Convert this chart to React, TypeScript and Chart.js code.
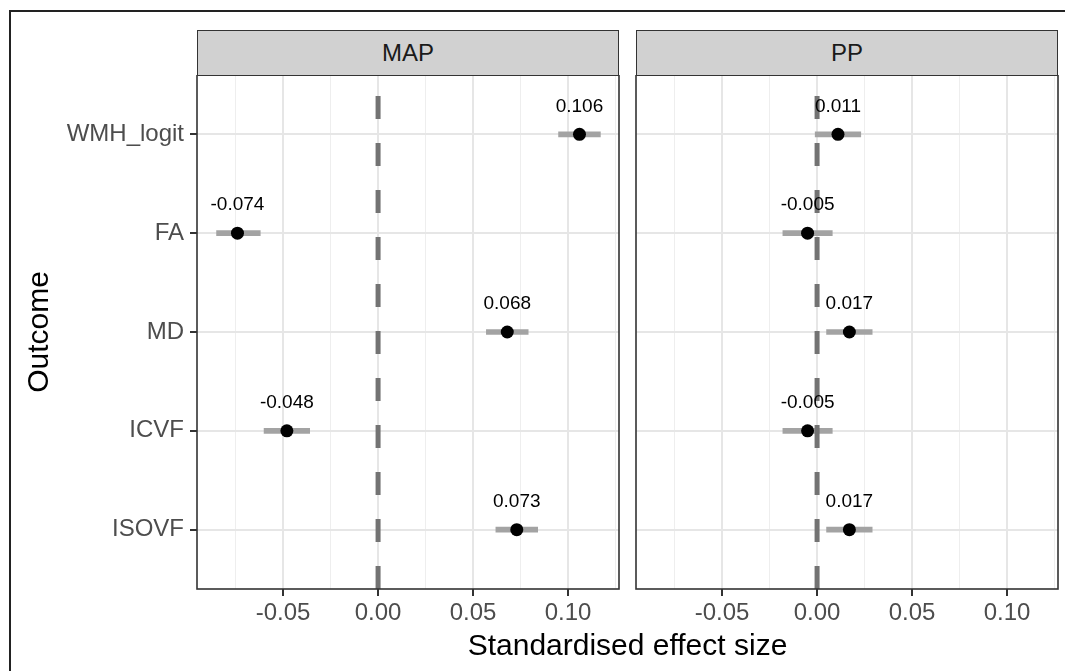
import React, { useEffect, useRef } from 'react';
import { Chart, registerables } from 'chart.js';

Chart.register(...registerables);

// ---------- data ----------
const outcomes = ['WMH_logit', 'FA', 'MD', 'ICVF', 'ISOVF'];
const outcomePos = [5, 4, 3, 2, 1];

const mapEst = [0.106, -0.074, 0.068, -0.048, 0.073];
const mapLow = [0.095, -0.085, 0.057, -0.06, 0.062];
const mapHigh = [0.117, -0.062, 0.079, -0.036, 0.084];

const ppEst = [0.011, -0.005, 0.017, -0.005, 0.017];
const ppLow = [-0.001, -0.018, 0.005, -0.018, 0.005];
const ppHigh = [0.023, 0.008, 0.029, 0.008, 0.029];

const xTickValues = [-0.075, -0.05, -0.025, 0, 0.025, 0.05, 0.075, 0.1, 0.125];
const xRange = [-0.0953, 0.1268];
const yRange = [0.4, 5.6];
const refLine = 0;

// ---------- styling ----------
const FONT = '"Liberation Sans", Arial, Helvetica, sans-serif';
const isMajor = (v: number) => Math.abs(Math.round(v / 0.05) * 0.05 - v) < 1e-9;

const panelPlugin = {
  id: 'panel',
  afterDatasetsDraw(chart: any, _args: any, opts: any) {
    const { ctx } = chart;
    const meta = chart.getDatasetMeta(0);
    const labels: string[] = opts.labels || [];
    ctx.save();
    ctx.font = `19px ${FONT}`;
    ctx.fillStyle = '#000';
    ctx.textAlign = 'center';
    ctx.textBaseline = 'middle';
    meta.data.forEach((pt: any, i: number) => {
      ctx.fillText(labels[i], pt.x, pt.y - 28);
    });
    ctx.restore();
  },
  afterDraw(chart: any) {
    const { ctx, chartArea: a } = chart;
    ctx.save();
    ctx.strokeStyle = '#333333';
    ctx.lineWidth = 1.6;
    ctx.strokeRect(a.left, a.top, a.right - a.left, a.bottom - a.top);
    ctx.restore();
  },
};

function buildConfig(est: number[], low: number[], high: number[], showY: boolean): any {
  return {
    type: 'scatter',
    data: {
      datasets: [
        {
          type: 'scatter',
          order: 0,
          data: est.map((v, i) => ({ x: v, y: outcomePos[i] })),
          pointRadius: 6.5,
          pointHoverRadius: 6.5,
          backgroundColor: '#000000',
          borderWidth: 0,
        },
        {
          type: 'line',
          order: 1,
          data: [
            { x: refLine, y: yRange[0] },
            { x: refLine, y: yRange[1] },
          ],
          borderColor: '#737373',
          borderWidth: 5,
          borderDash: [23, 24],
          borderCapStyle: 'butt',
          pointRadius: 0,
          fill: false,
        },
        {
          type: 'bar',
          order: 2,
          indexAxis: 'y',
          data: low.map((v, i) => ({ x: [v, high[i]], y: outcomePos[i] })),
          barThickness: 5,
          backgroundColor: '#a3a3a3',
          borderWidth: 0,
          borderSkipped: false,
        },
      ],
    },
    options: {
      responsive: false,
      animation: false,
      events: [],
      layout: {
        autoPadding: false,
        padding: showY ? { left: 0, right: 8, top: 0, bottom: 0 } : { left: 9, right: 7, top: 0, bottom: 0 },
      },
      plugins: {
        legend: { display: false },
        tooltip: { enabled: false },
        panel: { labels: est.map((v) => v.toFixed(3)) },
      },
      scales: {
        x: {
          type: 'linear',
          min: xRange[0],
          max: xRange[1],
          offset: false,
          afterBuildTicks: (s: any) => {
            s.ticks = xTickValues.map((v) => ({ value: v }));
          },
          afterFit: (s: any) => {
            s.height = 82;
            s.paddingLeft = 0;
            s.paddingRight = 0;
          },
          ticks: {
            autoSkip: false,
            maxRotation: 0,
            padding: 3,
            color: '#4D4D4D',
            font: { family: FONT, size: 24 },
            callback: (v: number) => (isMajor(v) ? v.toFixed(2) : ''),
          },
          grid: {
            offset: false,
            color: (c: any) => (c.tick && isMajor(c.tick.value) ? '#E6E6E6' : '#EEEEEE'),
            lineWidth: (c: any) => (c.tick && isMajor(c.tick.value) ? 2 : 1),
            tickColor: (c: any) => (c.tick && isMajor(c.tick.value) ? '#333333' : 'rgba(0,0,0,0)'),
            tickLength: 7,
            tickWidth: 2,
          },
          border: { display: false },
        },
        y: {
          type: 'linear',
          min: yRange[0],
          max: yRange[1],
          offset: false,
          afterBuildTicks: (s: any) => {
            s.ticks = outcomePos.map((v) => ({ value: v }));
          },
          afterFit: (s: any) => {
            s.width = showY ? 197 : 0;
            s.paddingTop = 0;
            s.paddingBottom = 0;
          },
          ticks: {
            display: showY,
            padding: 6,
            color: '#4D4D4D',
            font: { family: FONT, size: 24 },
            callback: (v: number) => outcomes[outcomePos.indexOf(v)] ?? '',
          },
          grid: {
            offset: false,
            color: '#E6E6E6',
            lineWidth: 2,
            drawTicks: showY,
            tickColor: '#333333',
            tickLength: 7,
            tickWidth: 2,
          },
          border: { display: false },
          title: {
            display: showY,
            text: 'Outcome',
            color: '#000000',
            font: { family: FONT, size: 30 },
            padding: { top: 22, bottom: 0 },
          },
        },
      },
    },
    plugins: [panelPlugin],
  };
}

function Panel({ est, low, high, showY, left, width }: any) {
  const ref = useRef<HTMLCanvasElement>(null);
  useEffect(() => {
    if (!ref.current) return;
    const chart = new Chart(ref.current, buildConfig(est, low, high, showY));
    return () => chart.destroy();
  }, []);
  return (
    <canvas
      ref={ref}
      width={width}
      height={596}
      style={{ position: 'absolute', left, top: 75, width, height: 596 }}
    />
  );
}

const stripStyle = (left: number): React.CSSProperties => ({
  position: 'absolute',
  left,
  top: 30,
  width: 422,
  height: 46,
  boxSizing: 'border-box',
  border: '1.6px solid #333333',
  background: '#D1D1D1',
  color: '#1A1A1A',
  font: `24px ${FONT}`,
  lineHeight: '43px',
  textAlign: 'center',
});

export default function App() {
  return (
    <div
      style={{
        position: 'fixed',
        left: 0,
        top: 0,
        width: 1065,
        height: 671,
        overflow: 'hidden',
        background: '#ffffff',
      }}
    >
      <div
        style={{
          position: 'absolute',
          left: 9,
          top: 10,
          width: 1120,
          height: 720,
          border: '2px solid #222222',
        }}
      />
      <Panel est={mapEst} low={mapLow} high={mapHigh} showY={true} left={0} width={627} />
      <Panel est={ppEst} low={ppLow} high={ppHigh} showY={false} left={627} width={438} />
      <div style={stripStyle(197)}>MAP</div>
      <div style={stripStyle(636)}>PP</div>
      <div
        style={{
          position: 'absolute',
          left: 197,
          width: 861,
          top: 627,
          height: 36,
          textAlign: 'center',
          font: `30px ${FONT}`,
          lineHeight: '36px',
          color: '#000000',
        }}
      >
        Standardised effect size
      </div>
    </div>
  );
}
